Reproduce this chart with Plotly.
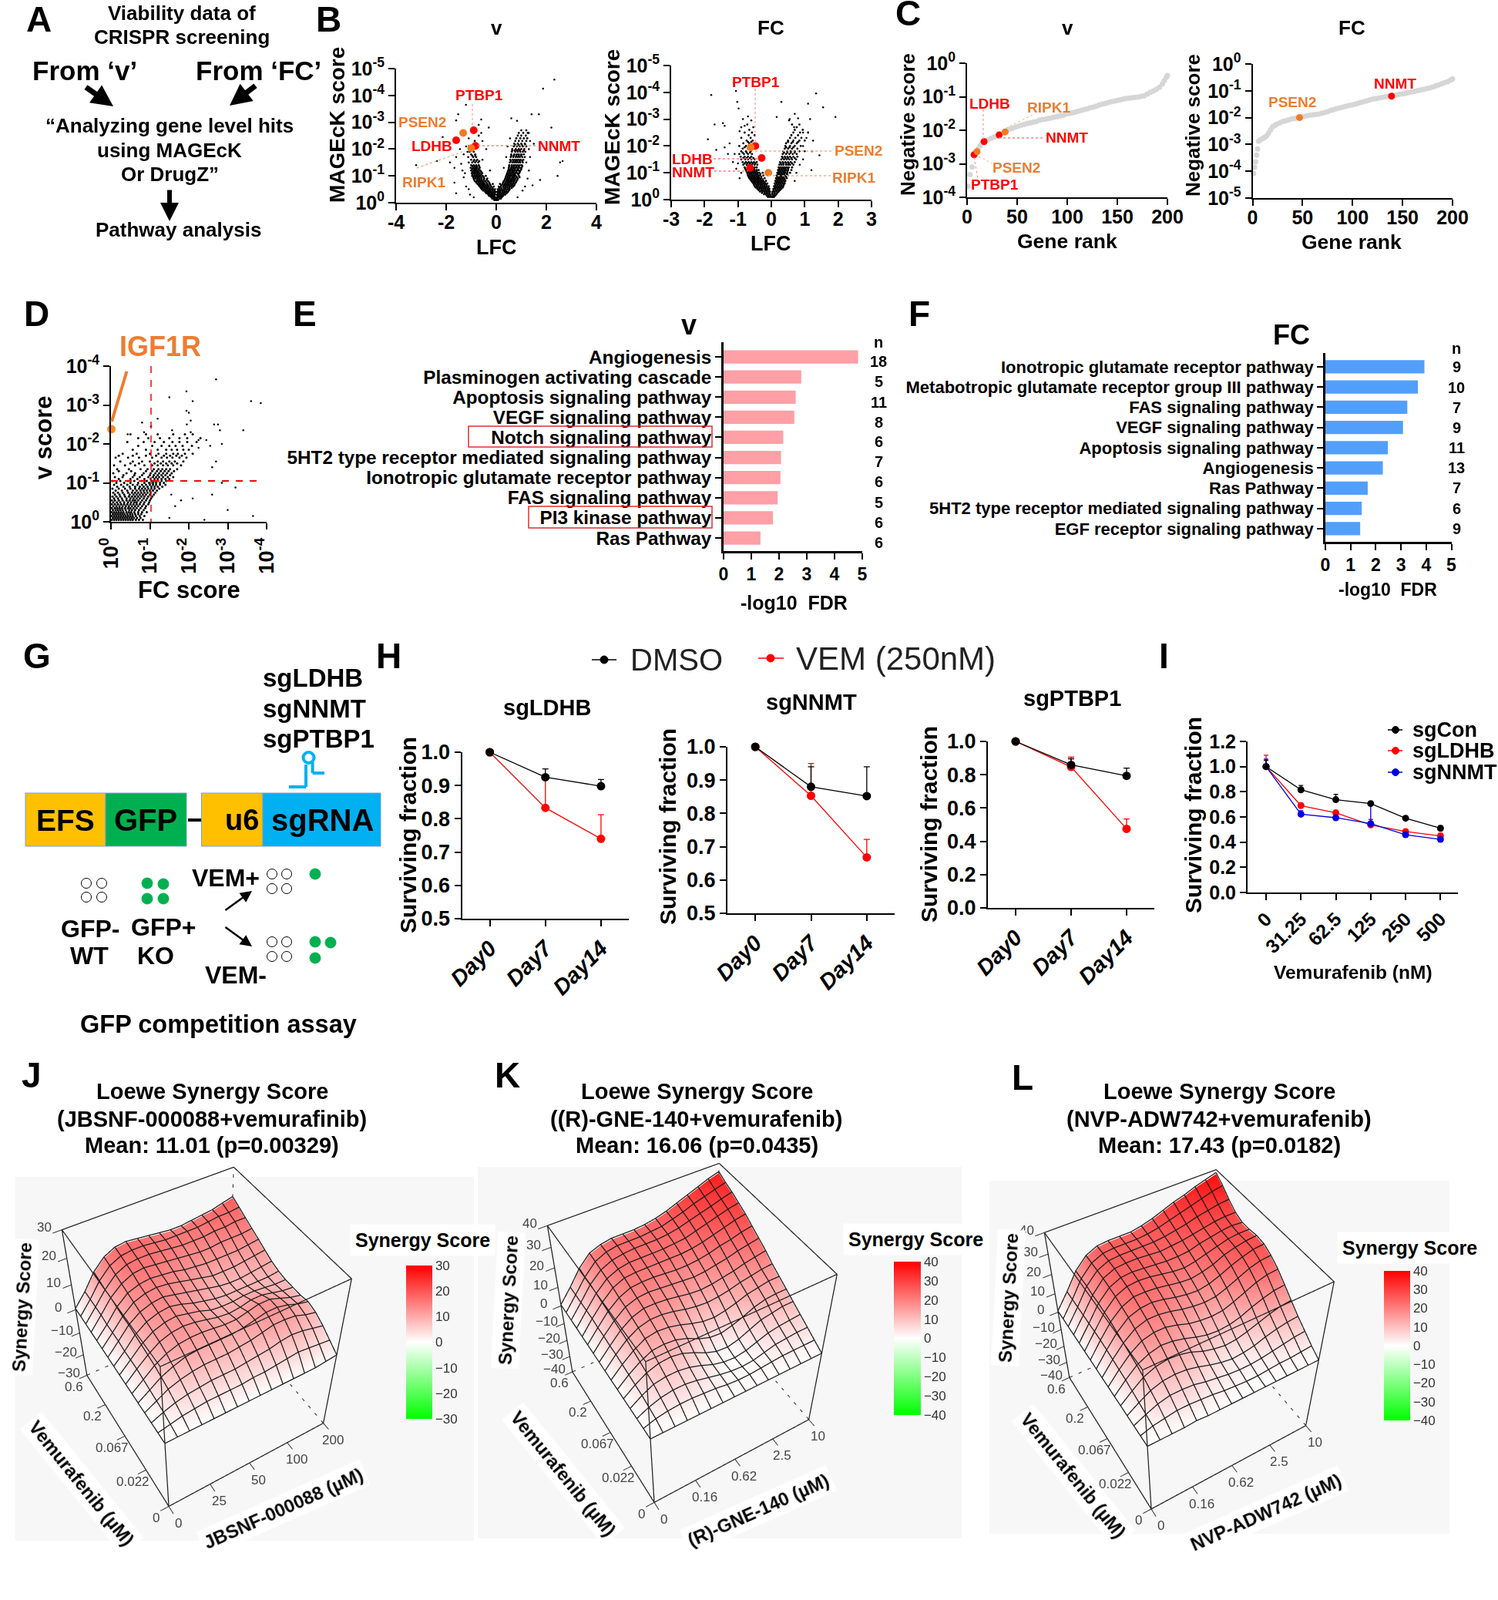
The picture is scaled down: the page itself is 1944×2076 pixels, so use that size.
import plotly.graph_objects as go

W, H = 1944, 2076
FONT = "Liberation Sans"
RED, ORANGE, LORANGE = "#ff0000", "#f47a1f", "#ed7d31"

# ---------- panel B: v volcano (row: -log10 score -> LFC values)
bv_rows = {
0.1:[-.08,-.03,.02,.07],
0.2:[-.2,-.14,-.08,-.02,.05,.1,.16,.22],
0.3:[-.32,-.26,-.19,-.12,-.05,.02,.08,.15,.22,.3,.36],
0.4:[-.44,-.38,-.31,-.24,-.17,-.09,-.02,.04,.1,.17,.26,.33,.4,.47],
0.5:[-.58,-.5,-.43,-.36,-.28,-.2,-.12,-.05,.06,.14,.22,.3,.38,.46,.54],
0.6:[-.66,-.6,-.52,-.45,-.38,-.3,-.2,-.1,.1,.18,.28,.36,.44,.52,.6,.68],
0.7:[-.75,-.68,-.6,-.53,-.46,-.36,-.26,-.14,.15,.25,.34,.42,.5,.58,.66,.74],
0.8:[-.85,-.78,-.7,-.62,-.54,-.44,-.32,.3,.4,.48,.56,.62,.7,.8],
0.9:[-.9,-.82,-.74,-.66,-.58,-.48,-.36,.36,.44,.52,.6,.68,.76,.86],
1.0:[-.96,-.88,-.8,-.72,-.64,-.54,-.42,.4,.48,.55,.62,.7,.78,.9],
1.1:[-.98,-.9,-.82,-.74,-.66,-.56,.44,.52,.6,.68,.76,.84,.92],
1.2:[-1.0,-.9,-.82,-.74,-.64,.48,.56,.64,.72,.8,.88,.96],
1.3:[-1.02,-.92,-.84,-.76,-.66,.5,.6,.68,.76,.84,.92,1.0],
1.4:[-1.0,-.9,-.8,-.7,.52,.62,.7,.78,.86,.94,1.02],
1.5:[-1.1,-.96,-.84,-.72,.54,.64,.72,.8,.88,.96,1.06],
1.6:[-1.0,-.88,-.76,.56,.66,.74,.82,.9,.98,1.08],
1.7:[-1.12,-.92,-.8,.58,.68,.78,.86,.94,1.04,1.14],
1.8:[-1.0,-.84,.6,.72,.82,.9,1.0,1.1],
1.9:[-1.06,-.9,.62,.76,.86,.96,1.06,1.16],
2.0:[-.94,.64,.78,.9,1.0,1.12],
2.1:[-1.1,.7,.82,.94,1.06,1.2],
2.2:[.72,.86,1.0,1.14],
2.3:[-.86,.76,.9,1.04,1.2],
2.4:[.8,.96,1.1,1.24],
2.5:[-.7,.86,1.0,1.18],
2.6:[.9,1.08,1.26],
2.7:[1.0,1.2],
.15:[-.16,-.1,-.04,.03,.12,.18],
.25:[-.28,-.22,-.15,-.08,.06,.13,.2,.27],
.35:[-.4,-.34,-.27,-.2,-.13,-.06,.07,.14,.21,.28,.35,.42],
.45:[-.52,-.46,-.4,-.32,-.25,-.16,-.07,.08,.16,.24,.32,.4,.5],
.55:[-.62,-.55,-.47,-.4,-.33,-.25,-.15,.12,.2,.3,.37,.45,.53,.62],
.65:[-.7,-.63,-.56,-.49,-.41,-.33,-.23,.2,.3,.38,.46,.54,.63,.72],
.75:[-.8,-.72,-.65,-.57,-.5,-.39,-.28,.28,.37,.45,.53,.6,.69,.78],
.85:[-.88,-.76,-.68,-.6,-.5,-.38,.34,.43,.5,.58,.66,.74,.84],
.95:[-.92,-.84,-.76,-.69,-.6,-.5,.38,.46,.54,.64,.72,.82,.93],
1.05:[-.95,-.86,-.77,-.69,-.6,.42,.5,.58,.66,.74,.88],
1.15:[-.94,-.86,-.78,-.7,-.6,.46,.54,.63,.7,.8,.94],
1.25:[-.96,-.87,-.8,-.7,.5,.58,.66,.74,.86,1.0],
1.35:[-.95,-.86,-.78,-.68,.52,.62,.7,.8,.9,1.04],
1.55:[-.9,-.8,-.68,.58,.68,.76,.84,.94,1.04],
1.75:[-.96,-.84,.6,.7,.8,.9,1.0],
1.95:[-.98,.64,.74,.84,.94,1.1],
2.15:[.76,.9,1.02,1.16],
}
bv_out = [(2.32,4.59),(1.87,4.25),(-1.21,3.65),(-1.52,3.3),(1.41,3.3),(1.7,3.3),(.6,3.15),(.83,3.05),(-1.6,3.07),(-.6,3.1),
(2.2,2.8),(-.3,2.8),(-2.14,2.45),(-2.37,1.55),(-3.2,1.4),(2.65,1.55),(2.55,1.5),(2.45,1.0),(-1.6,.35),(-1.67,.75),(-1.3,.95),
(-1.85,1.5),(-1.67,1.3),(-1.4,1.45),(-1.3,1.8),(-1.6,1.7),(1.45,.65),(1.15,.6),(1.75,.85),(1.5,2.2),(1.3,2.6),(-1.1,2.4),(-.7,2.9),
(-1.2,.6),(-1.1,.5),(-1.25,1.1),(-1.35,1.2),(-1.15,1.9),(-1.2,2.1),(-1.45,2.0),(-.55,2.3),(-.6,2.6),(1.25,.9),(1.3,1.2),(1.2,1.5),
(1.35,1.7),(1.3,2.0),(1.35,2.3),(.55,2.4),(.45,2.1),(.4,1.7),(1.05,.45),(-1.05,.3),(-.9,.2),(.85,.2),(-.4,2.0),(-.55,1.6),(.3,1.3),(-.25,1.2)]
bv_hits = {"PTBP1":(-.9,2.7,RED),"LDHB":(-1.6,2.33,RED),"NNMT":(-.83,2.12,RED),"PSEN2":(-1.32,2.6,ORANGE),"RIPK1":(-1.0,2.03,ORANGE)}

# ---------- panel B: FC volcano
bf_rows = {
0.1:[-.1,-.05,0,.04,.08],
0.2:[-.22,-.16,-.1,-.04,.03,.09,.15],
0.3:[-.34,-.28,-.22,-.16,-.1,-.04,.04,.1,.16,.22],
0.4:[-.42,-.36,-.3,-.24,-.18,-.12,-.06,.06,.12,.18,.24,.3],
0.5:[-.5,-.44,-.38,-.32,-.26,-.2,-.14,-.08,.08,.14,.2,.26,.32,.36],
0.6:[-.54,-.48,-.42,-.36,-.3,-.24,-.18,-.12,.1,.16,.22,.28,.34,.4],
0.7:[-.6,-.54,-.48,-.42,-.36,-.3,-.24,-.16,.12,.18,.24,.3,.36,.42],
0.8:[-.66,-.6,-.54,-.48,-.42,-.36,-.3,-.2,.14,.2,.26,.32,.38,.46],
0.9:[-.7,-.64,-.58,-.52,-.46,-.4,-.34,-.24,.16,.22,.28,.34,.4,.5],
1.0:[-.72,-.66,-.6,-.54,-.48,-.42,-.36,-.26,.18,.24,.3,.36,.42,.48,.56],
1.1:[-.76,-.68,-.62,-.56,-.5,-.44,-.38,.2,.26,.32,.38,.44,.5,.6],
1.2:[-.8,-.7,-.64,-.58,-.5,-.44,.22,.28,.34,.4,.46,.52,.62],
1.3:[-.84,-.74,-.66,-.58,-.5,-.42,.24,.3,.36,.44,.5,.56,.66],
1.4:[-.86,-.76,-.68,-.6,-.52,-.44,.26,.34,.42,.5,.58,.7],
1.5:[-.9,-.78,-.7,-.6,-.5,.3,.38,.46,.54,.62,.74],
1.6:[-.92,-.8,-.7,-.6,.32,.4,.48,.56,.66,.78],
1.7:[-.96,-.82,-.7,-.58,.34,.44,.54,.64,.76],
1.8:[-.9,-.76,-.62,.36,.48,.58,.7,.84],
1.9:[-.86,-.7,-.56,.4,.5,.62,.78],
2.0:[-.96,-.76,-.6,.42,.56,.7,.88],
2.1:[-.84,-.66,.44,.6,.76],
2.2:[-.74,-.56,.5,.66,.84,1.0],
2.3:[-.9,-.62,.56,.72,.9],
2.4:[-.68,-.5,.6,.8],
2.5:[-.8,-.58,.66,.86,1.1],
2.6:[-.66,.7,.94],
2.7:[-.9,-.54,.76],
2.8:[-.72,.62,.84],
.15:[-.14,-.08,-.02,.06,.12],
.25:[-.28,-.2,-.13,-.06,.03,.1,.18],
.35:[-.38,-.31,-.25,-.19,-.13,-.07,.07,.14,.2,.26],
.45:[-.47,-.41,-.34,-.28,-.22,-.16,-.09,.1,.16,.22,.28,.34],
.55:[-.52,-.45,-.39,-.33,-.27,-.21,-.15,.12,.18,.24,.3,.37],
.65:[-.57,-.51,-.45,-.39,-.33,-.27,-.2,.14,.2,.26,.32,.39],
.75:[-.63,-.57,-.51,-.45,-.39,-.33,-.26,.16,.22,.28,.34,.4],
.85:[-.68,-.62,-.56,-.5,-.44,-.38,-.3,.18,.24,.3,.36,.44],
.95:[-.71,-.65,-.59,-.53,-.47,-.41,-.33,.2,.26,.32,.38,.46],
1.05:[-.74,-.68,-.62,-.56,-.5,-.44,.22,.28,.34,.4,.48],
1.15:[-.78,-.7,-.64,-.58,-.52,.24,.3,.36,.42,.5],
1.35:[-.8,-.72,-.64,-.56,-.48,.28,.36,.44,.52,.62],
1.55:[-.84,-.74,-.64,-.54,.34,.42,.5,.6,.7],
1.75:[-.86,-.74,-.64,.38,.48,.58,.7],
1.95:[-.8,-.66,.44,.54,.66],
2.15:[-.7,-.6,.5,.64,.8],
}
bf_out = [(-1.06,4.05),(-1.8,3.9),(-1.02,3.64),(-.98,3.4),(-1.7,2.8),(-1.45,2.85),(-1.4,2.75),(-1.9,2.25),(-1.65,1.85),(-1.4,1.95),
(-1.25,2.1),(-1.1,1.7),(-1.0,1.35),(-.95,2.55),(-.8,2.75),(1.34,3.96),(.3,3.64),(1.1,3.58),(1.55,3.44),(.16,3.08),(1.92,3.08),
(.8,3.03),(1.16,3.0),(1.25,2.2),(1.44,1.65),(1.2,1.1),(1.22,1.8),(1.0,1.8),(.53,2.95),(.68,2.7),(.95,2.5),
(-.95,.8),(-.9,1.0),(-1.05,1.15),(-1.15,1.4),(-1.3,1.7),(.7,.7),(.75,1.0),(.85,1.3),(.95,1.5),(.95,2.0),(1.05,2.3),(.55,3.0),(.7,3.2),(-.85,3.0),(-.7,3.1),(-.6,2.95)]
bf_hits = {"PTBP1":(-.48,2.0,RED),"PSEN2":(-.62,1.95,ORANGE),"LDHB":(-.29,1.55,RED),"NNMT":(-.64,1.18,RED),"RIPK1":(-.09,1.0,ORANGE)}

# ---------- panel C: gene rank curves (-log10 score)
cv_rank = [1,3,5,7,9,11,13,15,18,21,24,27,30,33,36,39,42,45,48,51,54,57,60,63,66,69,72,75,78,81,84,87,90,93,96,99,102,105,108,111,114,117,120,123,126,129,132,135,138,141,144,147,150,153,156,159,162,165,168,171,174,177,180,183,186,189,192,195,197,199,200]
cv_val = [3.67,3.32,3.1,2.75,2.62,2.55,2.46,2.38,2.32,2.28,2.24,2.2,2.17,2.12,2.08,2.02,1.97,1.94,1.91,1.88,1.85,1.83,1.8,1.78,1.76,1.74,1.7,1.68,1.67,1.65,1.63,1.61,1.59,1.57,1.55,1.52,1.5,1.48,1.46,1.43,1.41,1.38,1.36,1.33,1.31,1.28,1.25,1.22,1.2,1.17,1.15,1.13,1.11,1.09,1.07,1.05,1.04,1.03,1.02,1.01,.99,.97,.92,.87,.83,.78,.72,.62,.52,.42,.37]
cv_hits = {"PTBP1":(7,2.73,RED),"PSEN2":(10,2.64,ORANGE),"LDHB":(17,2.34,RED),"NNMT":(32,2.14,RED),"RIPK1":(38,2.05,ORANGE)}
cf_rank = [1,2,3,4,5,6,8,10,12,14,16,18,20,22,24,27,30,33,36,39,42,45,48,51,54,57,60,63,66,69,72,75,78,81,84,87,90,93,96,99,102,105,108,111,114,117,120,123,126,129,132,135,138,141,144,147,150,153,156,159,162,165,168,171,174,177,180,183,186,189,192,195,198,200]
cf_val = [4.08,3.85,3.65,3.4,3.17,2.88,2.82,2.78,2.74,2.68,2.58,2.45,2.34,2.3,2.25,2.2,2.15,2.12,2.08,2.05,2.03,2.0,1.98,1.96,1.93,1.91,1.9,1.88,1.87,1.84,1.81,1.78,1.73,1.7,1.67,1.64,1.61,1.58,1.55,1.53,1.5,1.47,1.44,1.41,1.38,1.34,1.31,1.29,1.27,1.25,1.23,1.21,1.2,1.18,1.16,1.13,1.11,1.09,1.06,1.04,1.02,.99,.97,.95,.92,.9,.86,.82,.78,.74,.7,.66,.6,.56]
cf_hits = {"PSEN2":(47,2.0,ORANGE),"NNMT":(139,1.2,RED)}

# ---------- panel D: (row: v exponent -> FC exponent values)
d_rows = {
.05:[.02,.08,.14,.2,.26,.32,.38,.44,.5,.56,.64,.72,.82],
.15:[.02,.08,.14,.2,.26,.32,.38,.44,.5,.56,.64,.74,.86],
.25:[.02,.08,.14,.2,.26,.32,.4,.46,.52,.6,.7,.8,.92],
.35:[.02,.1,.16,.22,.28,.36,.44,.5,.58,.66,.76,.88],
.45:[.02,.1,.18,.26,.34,.42,.5,.58,.66,.74,.84,.96],
.55:[.02,.1,.2,.3,.4,.48,.56,.62,.7,.8,.9,1.0],
.65:[.04,.14,.24,.36,.46,.54,.62,.7,.78,.86,.96,1.06],
.75:[.06,.18,.3,.44,.54,.62,.7,.78,.86,.94,1.02,1.14],
.85:[.04,.2,.36,.5,.62,.72,.8,.88,.96,1.04,1.12,1.24],
.95:[.08,.26,.42,.56,.68,.8,.9,1.0,1.08,1.16,1.26,1.4],
1.05:[.04,.24,.44,.6,.78,.92,1.04,1.12,1.2,1.3,1.42],
1.15:[.1,.3,.56,.74,.96,1.08,1.16,1.24,1.34,1.46,1.6],
1.25:[.06,.4,.62,.84,1.02,1.14,1.24,1.34,1.44,1.56],
1.35:[.16,.46,.76,.94,1.1,1.22,1.32,1.42,1.52,1.7],
1.45:[.08,.36,.62,.86,1.06,1.2,1.34,1.46,1.6,1.8],
1.55:[.24,.56,.8,1.0,1.2,1.34,1.5,1.64,1.86],
1.65:[.12,.44,.72,1.06,1.3,1.44,1.58,1.76,1.94],
1.75:[.3,.66,1.0,1.22,1.42,1.6,1.72,1.9,2.1],
1.85:[.56,.9,1.2,1.42,1.56,1.7,1.86,2.0],
1.95:[.7,1.06,1.3,1.5,1.66,1.84,2.08],
2.05:[.42,.84,1.12,1.36,1.58,1.76,1.96,2.2],
2.15:[.7,.96,1.26,1.5,1.76,1.96,2.3],
2.25:[.5,.9,1.2,1.6,1.9,2.1],
.1:[.05,.11,.17,.23,.29,.35,.41,.47,.53,.59,.67,.76],
.2:[.05,.11,.17,.23,.29,.35,.42,.49,.55,.62,.7,.78],
.3:[.05,.12,.18,.24,.3,.38,.47,.54,.62,.72,.84],
.4:[.06,.14,.22,.3,.38,.46,.54,.62,.7,.8,.9],
.5:[.06,.15,.24,.34,.44,.52,.6,.66,.76,.86,.98],
.6:[.08,.18,.28,.4,.5,.58,.66,.74,.84,.93,1.03],
.7:[.1,.22,.34,.48,.58,.66,.74,.82,.9,1.0,1.1],
.8:[.12,.28,.42,.56,.66,.76,.84,.92,1.0,1.08,1.18],
.9:[.16,.32,.48,.62,.74,.84,.94,1.04,1.12,1.2,1.32],
1.0:[.14,.34,.5,.7,.86,.98,1.08,1.16,1.26,1.36],
1.1:[.2,.5,.68,.86,1.02,1.12,1.2,1.3,1.4,1.5],
1.2:[.32,.6,.8,1.0,1.1,1.2,1.3,1.4,1.52],
1.3:[.2,.52,.9,1.06,1.18,1.28,1.38,1.48,1.62],
1.5:[.5,.72,1.12,1.28,1.42,1.56,1.7],
1.7:[.2,.56,.9,1.16,1.36,1.52,1.68,1.82],
}
d_out = [(2.7,3.66),(1.94,3.35),(1.5,3.2),(2.1,3.1),(3.6,3.1),(3.85,3.05),(1.94,2.85),(2.0,2.8),(2.05,2.6),(2.65,2.5),(2.75,2.5),
(2.8,2.35),(3.4,2.35),(1.95,2.5),(2.05,2.3),(1.2,2.65),(.8,2.55),(1.03,2.45),(.85,2.3),(.43,2.25),(1.57,2.35),(2.45,2.1),(2.25,2.1),
(2.85,2.0),(2.55,1.95),(2.25,1.9),(2.7,1.55),(2.6,1.4),(3.2,.88),(2.1,.6),(2.6,.7),(3.0,.3),(3.65,.15),(2.4,.05),(1.5,.1),(1.8,.55),(2.85,1.0),(1.55,.7),(1.65,.4)]
d_hit = (0.01, 2.38)

# ---------- panels E, F
e_terms = ["Angiogenesis","Plasminogen activating cascade","Apoptosis signaling pathway","VEGF signaling pathway","Notch signaling pathway","5HT2 type receptor mediated signaling pathway","Ionotropic glutamate receptor pathway","FAS signaling pathway","PI3 kinase pathway","Ras Pathway"]
e_vals = [4.85,2.8,2.6,2.55,2.15,2.07,2.05,1.95,1.78,1.33]
e_n = ["18","5","11","8","6","7","6","5","6","6"]
f_terms = ["Ionotropic glutamate receptor pathway","Metabotropic glutamate receptor group III pathway","FAS signaling pathway","VEGF signaling pathway","Apoptosis signaling pathway","Angiogenesis","Ras Pathway","5HT2 type receptor mediated signaling pathway","EGF receptor signaling pathway"]
f_vals = [3.93,3.67,3.25,3.08,2.48,2.28,1.68,1.44,1.38]
f_n = ["9","10","7","9","11","13","7","6","9"]

# ---------- panels H, I
days = ["Day0","Day7","Day14"]
h1_dmso, h1_dmso_e = [1.0,.925,.898], [0,.025,.02]
h1_vem, h1_vem_e = [1.0,.833,.74], [0,.095,.072]
h2_dmso, h2_dmso_e = [1.0,.88,.852], [0,.06,.088]
h2_vem, h2_vem_e = [1.0,.853,.668], [0,.097,.054]
h3_dmso, h3_dmso_e = [1.0,.859,.793], [0,.036,.047]
h3_vem, h3_vem_e = [1.0,.847,.475], [0,.058,.059]
doses = ["0","31.25","62.5","125","250","500"]
i_con, i_con_e = [1.0,.816,.737,.706,.59,.51], [.05,.034,.043,.014,.012,.02]
i_ldhb, i_ldhb_e = [1.0,.69,.633,.537,.484,.449], [.09,.02,.017,.043,.016,.021]
i_nnmt, i_nnmt_e = [1.0,.622,.594,.547,.459,.422], [.06,.028,.016,.143,.021,.018]

# ---------- panels J, K, L synergy matrices (rows: vemurafenib dose, cols: partner dose)
grid = [0,.27,.53,.8,1.07,1.33,1.6,1.87,2.13,2.4,2.67,2.93,3.2,3.47,3.73,4]
z_j = [
[0,0,0,0,0,0,0,0,0,0,0,0,0,0,.5,1],
[0,1,2,2.5,3,3,3,3,3.5,3.5,4,4.5,5,4.5,4,3.5],
[0,2,3.5,4.5,5,5.5,5.5,5.5,6,6.5,7,8,8.5,8,7,6],
[0,2.5,5,6.5,7.5,8,8,8,8.5,9,10,11,11,10.5,9,8],
[0,3,6,8,9.5,10,10,10,10,10.5,11.5,12.5,12.5,11.5,10,9],
[0,3.5,7,9.5,11,11.5,11.5,11,10.5,10.5,11.5,12.5,12.5,11,9.5,8.5],
[0,4,7.5,10.5,12,12.5,12,11,10,9.5,10,11,11,10,9,8.5],
[0,4,8,11,12.5,13,12,11,9.5,9,9,9.5,9.5,9,8.5,8.5],
[0,4,8.5,11.5,13,13.5,12.5,11,10,9,8.5,8.5,8.5,8.5,8.5,9],
[0,4.5,9,12,13.5,14,13,12,11,10,9,8.5,8.5,9,9.5,10],
[0,4.5,9,12.5,14,14.5,14,13,12,11,10,10,10,10.5,11,11.5],
[0,4.5,9.5,13,14.5,15,14.5,14,13,12.5,12,12,12,12,12.5,13],
[0,5,10,13.5,15.5,16,15.5,15,14.5,14,13.5,13.5,14,14,14,14.5],
[0,5,10,14,16,16.5,16.5,16,15.5,15,15,15,15.5,15.5,16,16],
[0,5,10.5,14.5,16.5,17,17,16.5,16,16,16,16,16.5,17,17,17.5],
[0,5,11,15,17,17.5,17,16.5,16,15.5,15.5,16,16.5,17,18,19]]
z_k = [
[0,0,0,0,0,0,0,0,0,0,0,0,0,0,0,0],
[0,2,3,3.5,3.5,3,2.5,1.5,1,1,1.5,2,2.5,2.5,2.5,2.5],
[0,3,5,6,6,5,3.5,2,1,.5,1,2.5,4,4.5,5,5],
[0,4,7,8,8,7,5,2.5,1,.5,1.5,3.5,5.5,6.5,7,7.5],
[0,4.5,8,10,10.5,9.5,7,4,2,1.5,3,5.5,8,9,10,10],
[0,5,9,12,12.5,12,10,7,5,4.5,6,8,10.5,12,12.5,12.5],
[0,5.5,10,13.5,14.5,14,12.5,10.5,9,8.5,9.5,11,13,14,15,15],
[0,6,11,14.5,16,16,15,13.5,12.5,12,12.5,13.5,15,16,17,17.5],
[0,6,11.5,15.5,17.5,17.5,17,16,15,14.5,15,16,17,18.5,19.5,20.5],
[0,6.5,12,16.5,18.5,19,18.5,18,17.5,17,17.5,18.5,19.5,21,22,23],
[0,6.5,12.5,17,19.5,20,20,19.5,19,19,19.5,20.5,22,23,24.5,25.5],
[0,7,13,18,20.5,21,21,21,21,21,21.5,22.5,24,25.5,27,28],
[0,7,13.5,18.5,21,22,22,22,22,22.5,23,24.5,26,27.5,29,30],
[0,7,14,19,21.5,22.5,23,23,23,23.5,24.5,26,27.5,29,30.5,32],
[0,7,14,19.5,22,23,23,23,23.5,24,25.5,27,29,30.5,32,33.5],
[0,7,14.5,20,22,23,23,23,23.5,24.5,26,28,30,32,34,35.5]]
z_l = [
[0,0,0,0,.5,0,0,0,0,0,0,0,0,0,0,0],
[0,2,3,4,4,3.5,3,2,1.5,1,1,1.5,2,2,2.5,3],
[0,3,5.5,7,7,6.5,5,4,3,2.5,2.5,3,4,5,6,6.5],
[0,4,7.5,9.5,10,9.5,8,6,4.5,3.5,4,5,7,8.5,9.5,10],
[0,5,9.5,12,13,12.5,11,8.5,7,6,6.5,8,10,12,13.5,14],
[0,6,11,14,15.5,15,13.5,11.5,10,9.5,10,11.5,14,16,17.5,18],
[0,6.5,12,16,17.5,17.5,16,14,13,12.5,13,15,17.5,20,21.5,22],
[0,7,13,17.5,19.5,19.5,18.5,17,16,15.5,16,18,20.5,23,24.5,25],
[0,7.5,14,19,21,21.5,20.5,19,18,17.5,18.5,20.5,23,25,26.5,27],
[0,8,15,20,22.5,22.5,22,21,20,19.5,20.5,22,24.5,26,27,27.5],
[0,8,15.5,21,23.5,24,23.5,22.5,21.5,21,22,23.5,25,26.5,27,27],
[0,8,16,21.5,24,24.5,24,23.5,23,23,23.5,25,26,27,27.5,27],
[0,8,16,22,24.5,25,25,24.5,24,24.5,25,26,27,28,28.5,28.5],
[0,8,16.5,22,24.5,25,25,25,25,25.5,26.5,27.5,29,30,31,31.5],
[0,8,16.5,22,24.5,25,25,25,25.5,26.5,28,29.5,31,32.5,34,35],
[0,8,16.5,22,24.5,25,25,25,26,27.5,29.5,31.5,33,35,36.5,38]]
vem_ticks = ["0","0.022","0.067","0.2","0.6"]
j_ticks = ["0","25","50","100","200"]
k_ticks = ["0","0.16","0.62","2.5","10"]
l_ticks = ["0","0.16","0.62","2.5","10"]

# ---------- helpers
def X(p): return p / W
def Y(p): return 1 - p / H
fig = go.Figure()
layout = {}
ann, shapes = [], []
counter = [0]

def txt(x, y, s, size, color="black", bold=True, angle=0, anchor="center", bg=None, font=FONT, italic=False, pad=1):
    t = f"<b>{s}</b>" if bold else s
    if italic: t = f"<i>{t}</i>"
    d = dict(x=X(x), y=Y(y), xref="paper", yref="paper", text=t, showarrow=False, xanchor=anchor, yanchor="middle",
             textangle=angle, font=dict(family=font, size=size, color=color), borderpad=pad)
    if bg: d["bgcolor"] = bg
    ann.append(d)

def line(x0, y0, x1, y1, color="black", width=1.5, dash="solid"):
    shapes.append(dict(type="line", xref="paper", yref="paper", x0=X(x0), y0=Y(y0), x1=X(x1), y1=Y(y1), line=dict(color=color, width=width, dash=dash)))

def rect(x0, y0, x1, y1, fill=None, color=None, width=1, layer="above"):
    shapes.append(dict(type="rect", xref="paper", yref="paper", x0=X(x0), y0=Y(y0), x1=X(x1), y1=Y(y1), layer=layer,
                       fillcolor=fill if fill else "rgba(0,0,0,0)", line=dict(color=color if color else "rgba(0,0,0,0)", width=width)))

def circ(cx, cy, r, fill=None, color="black", width=1):
    shapes.append(dict(type="circle", xref="paper", yref="paper", x0=X(cx - r), y0=Y(cy - r), x1=X(cx + r), y1=Y(cy + r),
                       fillcolor=fill if fill else "rgba(0,0,0,0)", line=dict(color=color, width=width)))

def arrow(x0, y0, x1, y1, width=6, size=.8, color="black"):
    ann.append(dict(x=X(x1), y=Y(y1), xref="paper", yref="paper", ax=x0 - x1, ay=y0 - y1, axref="pixel", ayref="pixel", text="",
                    showarrow=True, arrowhead=2, arrowsize=size, arrowwidth=width, arrowcolor=color))

def base_axis(size, **kw):
    d = dict(showgrid=False, zeroline=False, showline=True, linecolor="black", linewidth=2, ticks="outside", ticklen=8,
             tickwidth=2, tickcolor="black", tickfont=dict(family=FONT, size=size, color="black", weight="bold"))
    d.update(kw)
    return d

def axes(l, t, r, b, xopts, yopts):
    counter[0] += 1
    n = counter[0]
    layout[f"xaxis{n}"] = dict(domain=[X(l), X(r)], anchor=f"y{n}", **xopts)
    layout[f"yaxis{n}"] = dict(domain=[Y(b), Y(t)], anchor=f"x{n}", **yopts)
    return f"x{n}", f"y{n}"

def expo(lo, hi):
    vals = list(range(lo, hi + 1))
    return [10.0 ** (-v) for v in vals], [f"10<sup>{-v if v else 0}</sup>" for v in vals]

def flat(rows):
    xs, vs = [], []
    for v, row in rows.items():
        for x in row:
            xs.append(x); vs.append(v)
    return xs, vs

def dots(xa, ya, xs, ys, size, color="black"):
    fig.add_trace(go.Scatter(x=xs, y=ys, mode="markers", xaxis=xa, yaxis=ya, showlegend=False, cliponaxis=False,
                             marker=dict(size=size, color=color, line=dict(width=0))))

# ---------- panel letters
for s, x, y in [("A",50,25),("B",426,25),("C",1178,17),("D",47,407),("E",395,407),("F",1193,407),("G",48,851),("H",504,851),("I",1510,851),("J",41,1395),("K",658,1395),("L",1327,1398)]:
    txt(x, y, s, 46)

# ---------- A
for s, x, y, sz in [("Viability data of",236,17,26),("CRISPR screening",236,48,26),("From ‘v’",110,92,35),("From ‘FC’",335,92,35),
                    ("“Analyzing gene level hits",220,163,26),("using MAGEcK",220,195,26),("Or DrugZ”",220,226,26),("Pathway analysis",231,298,26)]:
    txt(x, y, s, sz)
arrow(110,112,147,138,7)
arrow(333,110,298,137,7)
arrow(220,245,220,287,6)

# ---------- B
def volcano(l, t, r, b, xr, xt, rows, out, hits):
    ytv, ytt = expo(0, 5)
    xa, ya = axes(l, t, r, b, base_axis(25, range=xr, tickvals=xt, ticktext=[str(v) for v in xt], ticklabelstandoff=-6),
                  base_axis(25, type="log", range=[0, -5], tickvals=ytv, ticktext=ytt, ticks="outside"))
    xs, vs = flat(rows)
    dots(xa, ya, xs, [10.0 ** (-v) for v in vs], 2.8)
    dots(xa, ya, [p[0] for p in out], [10.0 ** (-p[1]) for p in out], 2.5)
    for k, (hx, hv, c) in hits.items():
        dots(xa, ya, [hx], [10.0 ** (-hv)], 10, c)

volcano(514, 89, 774, 263, [-4, 4], [-4,-2,0,2,4], bv_rows, bv_out, bv_hits)
volcano(871, 85, 1131, 259, [-3, 3], [-3,-2,-1,0,1,2,3], bf_rows, bf_out, bf_hits)
txt(644, 36, "v", 26); txt(1000, 36, "FC", 26)
txt(644, 321, "LFC", 27); txt(1000, 316, "LFC", 27)
txt(437, 162, "MAGEcK score", 28, angle=-90); txt(794, 165, "MAGEcK score", 28, angle=-90)
LAB = 19
PL = "#ff8080"; OL = "#f5b183"
txt(622,123,"PTBP1",LAB,RED); line(613,135,613,165,PL,1,"dot")
txt(548,159,"PSEN2",LAB,LORANGE); txt(560,189,"LDHB",LAB,RED); txt(725,189,"NNMT",LAB,RED); line(620,189,697,189,PL,1.5,"dot")
txt(550,236,"RIPK1",LAB,LORANGE); line(541,218,600,197,OL,1.5,"dot")
txt(981,106,"PTBP1",LAB,RED); line(980,115,980,186,PL,1,"dot")
txt(898,207,"LDHB",LAB,RED); line(926,206,985,206,PL,1.5,"dot")
txt(899,224,"NNMT",LAB,RED); line(927,222,970,222,PL,1.5,"dot")
txt(1114,196,"PSEN2",LAB,LORANGE); line(980,196,1081,196,OL,1.5,"dot")
txt(1108,231,"RIPK1",LAB,LORANGE); line(997,228,1078,228,OL,1.5,"dot")

# ---------- C
def rank_panel(l, t, r, b, lo, rank, val, hits):
    ytv, ytt = expo(0, lo)
    xa, ya = axes(l, t, r, b, base_axis(25, range=[0, 200], tickvals=[0,50,100,150,200], ticklabelstandoff=-6),
                  base_axis(25, type="log", range=[-lo, 0], tickvals=ytv, ticktext=ytt))
    dots(xa, ya, rank, [10.0 ** (-v) for v in val], 7, "#d6d6d6")
    for k, (hx, hv, c) in hits.items():
        dots(xa, ya, [hx], [10.0 ** (-hv)], 9, c)

rank_panel(1255, 82, 1515, 256, 4, cv_rank, cv_val, cv_hits)
rank_panel(1625.5, 83, 1885, 257, 5, cf_rank, cf_val, cf_hits)
txt(1385,36,"v",26); txt(1754,36,"FC",26)
txt(1385,313,"Gene rank",26.5); txt(1754,314,"Gene rank",26.5)
txt(1178,162,"Negative score",26,angle=-90); txt(1548,163,"Negative score",26,angle=-90)
txt(1284,135,"LDHB",LAB,RED); line(1276,142,1276,182,PL,1,"dot")
txt(1361,139,"RIPK1",LAB,LORANGE); line(1340,149,1304,167,OL,1,"dot")
txt(1384,179,"NNMT",LAB,RED); line(1296,179,1355,179,PL,1.5,"dot")
txt(1319,218,"PSEN2",LAB,LORANGE); line(1270,203,1288,212,OL,1,"dot")
txt(1291,239,"PTBP1",LAB,RED); line(1264,204,1269,232,PL,1,"dot")
txt(1677,132,"PSEN2",LAB,LORANGE); txt(1810,108,"NNMT",LAB,RED)

# ---------- D
dtv, dtt = expo(0, 4)
xa, ya = axes(144, 475, 346, 677,
              base_axis(27, type="log", range=[0, -4], tickvals=dtv, ticktext=dtt, tickangle=-90),
              base_axis(25, type="log", range=[0, -4], tickvals=dtv, ticktext=dtt))
xs, vs = flat(d_rows)
dots(xa, ya, [10.0 ** (-x) for x in xs], [10.0 ** (-v) for v in vs], 3)
dots(xa, ya, [10.0 ** (-p[0]) for p in d_out], [10.0 ** (-p[1]) for p in d_out], 2.5)
dots(xa, ya, [10.0 ** (-d_hit[0])], [10.0 ** (-d_hit[1])], 11, "#ff8c1a")
line(196,475,196,677,RED,1.5,"dash"); line(144,624,341,624,RED,2,"dash")
txt(208,449,"IGF1R",36,LORANGE)
line(164.5,481.7,145,547,LORANGE,4)
txt(245,765,"FC score",31); txt(56,568,"v score",31,angle=-90)

# ---------- E, F
def bars(l, t, r, b, terms, vals, color, yrange, size):
    xa, ya = axes(l, t, r, b, base_axis(23, range=[0, 5], tickvals=[0,1,2,3,4,5], linewidth=2.5),
                  base_axis(size, type="category", range=yrange, linewidth=2.5, tickvals=terms, ticktext=terms))
    fig.add_trace(go.Bar(x=vals, y=terms, orientation="h", xaxis=xa, yaxis=ya, width=.66, showlegend=False,
                         marker=dict(color=color, line=dict(width=0))))

bars(939, 444, 1119, 715, e_terms, e_vals, "#ff9fa6", [9.65, -0.73], 24.3)
bars(1720, 458, 1883.5, 703, f_terms, f_vals, "#529ffb", [8.65, -0.68], 22)
txt(894,421,"v",36); txt(1676,435,"FC",36)
txt(1030,782,"-log10  FDR",25); txt(1801,765,"-log10  FDR",23)
txt(1140,444,"n",20)
for s, y in zip(e_n, [469,495,522,548,573,599,625,652,678,704]): txt(1140,y,s,20)
txt(1890,452,"n",20)
for s, y in zip(f_n, [476,503,529,555,581,607,633,660,686]): txt(1890,y,s,20)
rect(608,553,924,580,None,"#e0302e",1.5); rect(686,657,924,685,None,"#e0302e",1.5)

# ---------- G
rect(33,1029,137,1098,"#ffc000","#7f9fc8",1); rect(137,1029,242,1098,"#00b050","#7f9fc8",1)
rect(261.5,1029,341,1098,"#ffc000","#7f9fc8",1); rect(341,1029,494,1098,"#00b0f0","#7f9fc8",1)
line(244,1064,261,1064,"black",4)
for s, x, sz in [("EFS",85,39),("GFP",189,40),("u6",314,38),("sgRNA",418,40)]: txt(x,1064,s,sz)
for s, y in [("sgLDHB",879),("sgNNMT",919),("sgPTBP1",958)]: txt(339,y,s,33,anchor="left")
HP = "#00b0f0"
line(375,1021,397,1021,HP,4); line(397,1021,397,992,HP,4); circ(400.5,983,7,None,HP,4)
line(405.6,989,405.6,1003,HP,4); line(405.6,1003,421,1003,HP,4)
for cx, cy in [(112,1146),(132,1146),(112,1164),(132,1164),(353,1134),(372,1134),(353,1153),(372,1153),(353,1222),(372,1222),(353,1241),(372,1241)]:
    circ(cx,cy,6.5)
GR = "#00b050"
for cx, cy in [(191,1146),(212,1147),(191,1166),(212,1166),(409,1134),(409,1222),(429,1223),(409,1243)]:
    circ(cx,cy,7,GR,GR)
txt(117,1205,"GFP-",32); txt(212,1203,"GFP+",32); txt(116,1240,"WT",32); txt(202,1240,"KO",32)
txt(293,1139,"VEM+",32); txt(306,1265,"VEM-",32); txt(283,1329,"GFP competition assay",32.5)
arrow(291,1182,327,1156,2.5,1.2); arrow(291,1202,327,1228,2.5,1.2)

# ---------- H
def day_panel(l, t, r, b, yr, yt, yfmt, d, de, v, ve):
    xa, ya = axes(l, t, r, b,
                  base_axis(29, type="category", range=[-.5, 2.5], tickvals=days, ticktext=days, tickangle=-45,
                            tickfont=dict(family=FONT, size=29, color="black", weight="bold", style="italic")),
                  base_axis(27, range=yr, tickvals=yt, ticktext=[yfmt % y for y in yt]))
    for vals, err, c in [(v, ve, RED), (d, de, "black")]:
        fig.add_trace(go.Scatter(x=days, y=vals, mode="lines+markers", xaxis=xa, yaxis=ya, showlegend=False, cliponaxis=False,
                                 line=dict(color=c, width=1.3), marker=dict(size=11, color=c),
                                 error_y=dict(type="data", symmetric=False, array=err, arrayminus=[0]*len(err), color=c, thickness=1.3, width=4)))

ty = [.5,.6,.7,.8,.9,1.0]
day_panel(599.5, 976, 816, 1192, [.5, 1.0], ty, "%.1f", h1_dmso, h1_dmso_e, h1_vem, h1_vem_e)
day_panel(944, 969, 1161, 1185, [.5, 1.0], ty, "%.1f", h2_dmso, h2_dmso_e, h2_vem, h2_vem_e)
day_panel(1282, 962, 1498, 1178, [0, 1.0], [0,.2,.4,.6,.8,1.0], "%.1f", h3_dmso, h3_dmso_e, h3_vem, h3_vem_e)
txt(710,918,"sgLDHB",29); txt(1053,911,"sgNNMT",29); txt(1391,906,"sgPTBP1",29)
txt(529,1084,"Surviving fraction",30,angle=-90); txt(866,1073,"Surviving fraction",30,angle=-90); txt(1205,1070,"Surviving fraction",30,angle=-90)
line(768,856,800,856,"black",1.5); circ(784,856,5,"black","black")
txt(816,856,"DMSO",40,"#222",bold=False,anchor="left")
line(984,854,1017,854,RED,1.5); circ(1000,854,5,RED,RED)
txt(1031,854,"VEM (250nM)",42,"#222",bold=False,anchor="left")

# ---------- I
xa, ya = axes(1619, 962, 1892, 1158,
              base_axis(25, type="category", range=[-.53, 5.5], tickvals=doses, ticktext=doses, tickangle=-45),
              base_axis(25, range=[0, 1.2], tickvals=[0,.2,.4,.6,.8,1.0,1.2], ticktext=["0.0","0.2","0.4","0.6","0.8","1.0","1.2"]))
for vals, err, c in [(i_ldhb, i_ldhb_e, RED), (i_nnmt, i_nnmt_e, "#0000e0"), (i_con, i_con_e, "black")]:
    fig.add_trace(go.Scatter(x=doses, y=vals, mode="lines+markers", xaxis=xa, yaxis=ya, showlegend=False, cliponaxis=False,
                             line=dict(color=c, width=1.3), marker=dict(size=9, color=c),
                             error_y=dict(type="data", symmetric=False, array=err, arrayminus=[0]*len(err), color=c, thickness=1.3, width=3)))
txt(1548,1058,"Surviving fraction",30,angle=-90)
txt(1756,1261,"Vemurafenib (nM)",24.5)
for s, y, c in [("sgCon",947,"black"),("sgLDHB",974,RED),("sgNNMT",1002,"#0000e0")]:
    line(1801,y,1820,y,c,1.5); circ(1811,y,4.5,c,c); txt(1831,y,s,27,anchor="left")

# ---------- J, K, L
CS = [[0,"#00ff00"],[.5,"#ffffff"],[1,"#ff0000"]]
SW, SH = 520, 815
VIEW = (-.364, -.606, .707)  # camera direction
UP = (.364, .606, .707)      # screen-up direction in scene units
DIST, PXU = 4.2, 280.0       # camera distance, pixels per scene unit
LAB3 = dict(family=FONT, size=17, color="#444")
def synergy(idx, gray, centre, zm, lim, ticks, cbar):
    rect(gray[0], gray[1], gray[2], gray[3], "#f7f7f7", None, 0, "below")
    cx, cy = centre
    sid = "scene" if idx == 1 else f"scene{idx}"
    fig.add_trace(go.Surface(x=grid, y=grid, z=zm, scene=sid, colorscale=CS, cmin=-lim, cmax=lim, showscale=True,
                             lighting=dict(ambient=1, diffuse=0, specular=0, fresnel=0, roughness=1),
                             colorbar=dict(x=X(cbar[0]), xanchor="left", y=Y((cbar[2]+cbar[3])/2), yanchor="middle", len=cbar[3]-cbar[2], lenmode="pixels",
                                           thickness=cbar[1]-cbar[0], ticks="", outlinewidth=0, ypad=0, xpad=0, dtick=10,
                                           tickfont=dict(family=FONT, size=17, color="#333"))))
    off = lim / 60
    gx, gy, gz = [], [], []
    for i, row in enumerate(zm):
        gx += grid + [None]; gy += [grid[i]] * 16 + [None]; gz += [v + off for v in row] + [None]
    for j in range(16):
        gx += [grid[j]] * 16 + [None]; gy += grid + [None]; gz += [row[j] + off for row in zm] + [None]
    fig.add_trace(go.Scatter3d(x=gx, y=gy, z=gz, mode="lines", scene=sid, showlegend=False, line=dict(color="#1a1a1a", width=2.5), hoverinfo="skip"))
    a, c = 0, 4
    z0, z1 = -lim, lim
    solid_x = [c,a,a,None,a,a,None,c,c,None,a,a,None,a,c,c,a,a]
    solid_y = [a,a,c,None,a,a,None,a,a,None,c,c,None,a,a,c,c,a]
    solid_z = [z0,z0,z0,None,z0,z1,None,z0,z1,None,z0,z1,None,z1,z1,z1,z1,z1]
    fig.add_trace(go.Scatter3d(x=solid_x, y=solid_y, z=solid_z, mode="lines", scene=sid, showlegend=False,
                               line=dict(color="#222", width=2.5), hoverinfo="skip"))
    fig.add_trace(go.Scatter3d(x=[a,c,c,None,c,c], y=[c,c,a,None,c,c], z=[z0,z0,z0,None,z0,z1], mode="lines", scene=sid, showlegend=False,
                               line=dict(color="#222", width=2, dash="dash"), hoverinfo="skip"))
    ax3 = dict(showgrid=False, zeroline=False, showline=False, showbackground=False, showspikes=False, ticks="outside", ticklen=10, tickwidth=2,
               tickcolor="#333", showticklabels=False, title=dict(text=""))
    labs = []
    for v, s in enumerate(ticks):
        labs.append(dict(x=v, y=a, z=z0, text=s, showarrow=False, xshift=12, yshift=-22, font=LAB3))
    for v, s in enumerate(vem_ticks):
        labs.append(dict(x=a, y=v, z=z0, text=s, showarrow=False, xshift=-17, yshift=-15, font=LAB3))
    zv = z0
    while zv <= z1:
        labs.append(dict(x=a, y=c, z=zv, text=str(zv).replace("-", "−"), showarrow=False, xshift=-23, yshift=3, font=LAB3))
        zv += 10
    y0 = H - SH / 2
    pan = (cy - y0) / PXU
    cen = [u * pan for u in UP]
    eye = [v * DIST + q for v, q in zip(VIEW, cen)]
    layout[sid] = dict(domain=dict(x=[X(cx-SW/2), X(cx+SW/2)], y=[0, Y(H-SH)]), bgcolor="rgba(0,0,0,0)",
                       aspectmode="manual", aspectratio=dict(x=1.05, y=1.05, z=1.2),
                       camera=dict(eye=dict(x=eye[0], y=eye[1], z=eye[2]), up=dict(x=0, y=0, z=1), center=dict(x=cen[0], y=cen[1], z=cen[2])),
                       xaxis=dict(range=[0, 4], tickvals=[0,1,2,3,4], ticktext=ticks, **ax3),
                       yaxis=dict(range=[0, 4], tickvals=[0,1,2,3,4], ticktext=vem_ticks, **ax3),
                       zaxis=dict(range=[-lim, lim], dtick=10, **{**ax3, "ticklen": 8}),
                       annotations=labs)

synergy(1, (19.5,1527,615,1999), (262,1742), z_j, 30, j_ticks, (527,561,1642,1841))
synergy(2, (620,1514,1248,1996), (892,1736), z_k, 40, k_ticks, (1159.5,1194,1637,1836))
synergy(3, (1284,1532,1881,1990), (1537,1746), z_l, 40, l_ticks, (1796,1830,1649,1843))

for cx, lines_ in [(275,["Loewe Synergy Score","(JBSNF-000088+vemurafinib)","Mean: 11.01 (p=0.00329)"]),
                   (904,["Loewe Synergy Score","((R)-GNE-140+vemurafenib)","Mean: 16.06 (p=0.0435)"]),
                   (1582,["Loewe Synergy Score","(NVP-ADW742+vemurafenib)","Mean: 17.43 (p=0.0182)"])]:
    for s, y in zip(lines_, [1416,1452,1486]): txt(cx,y,s,29)
for x, y in [(548,1609),(1188,1608),(1829,1619)]:
    txt(x,y,"Synergy Score",25,bg="white",pad=6)
for x, y in [(106,1924),(731.5,1912),(1393,1914)]:
    txt(x,y,"Vemurafenib (µM)",24,angle=51,bg="white",pad=4)
for x, y, s in [(367,1957,"JBSNF-000088 (µM)"),(984,1959,"(R)-GNE-140 (µM)"),(1642,1962,"NVP-ADW742 (µM)")]:
    txt(x,y,s,24,angle=-24,bg="white",pad=4)
for x, y in [(28,1696),(659,1687),(1308,1684)]:
    txt(x,y,"Synergy Score",24,angle=-87,bg="white",pad=4)

fig.update_layout(width=W, height=H, margin=dict(l=0, r=0, t=0, b=0, autoexpand=False), paper_bgcolor="white", plot_bgcolor="rgba(0,0,0,0)",
                  showlegend=False, annotations=ann, shapes=shapes, font=dict(family=FONT), **layout)
fig.write_html("out.html", config=dict(displayModeBar=False), post_script="document.body.style.margin='0';")
